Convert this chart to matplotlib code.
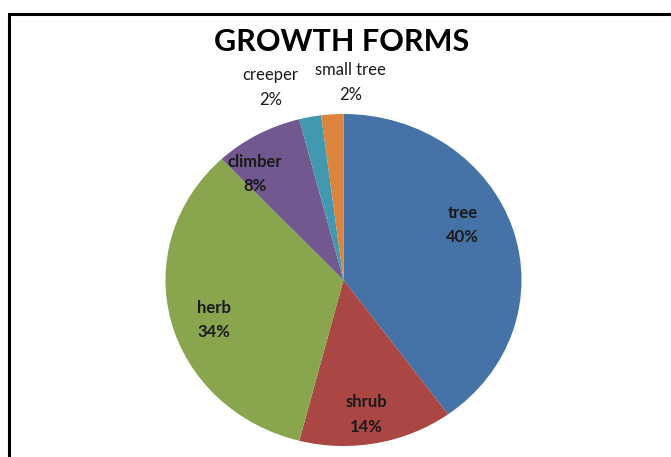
import matplotlib
matplotlib.use("Agg")
import matplotlib.pyplot as plt
from matplotlib.patches import Rectangle

# growth form shares (percent), clockwise from 12 o'clock
forms = ["tree", "shrub", "herb", "climber", "creeper", "small tree"]
shares = [40, 14, 34, 8, 2, 2]
colors = ["#4572A7", "#AA4643", "#89A54E", "#71588F", "#4198AF", "#DB843D"]

# label centres in pie units (radius = 1)
label_xy = [(0.67, 0.33), (0.13, -0.81), (-0.73, -0.24),
            (-0.50, 0.64), (-0.41, 1.16), (0.04, 1.19)]

W, H = 671, 457
fig = plt.figure(figsize=(W / 100, H / 100), dpi=100)
fig.patch.set_facecolor("white")

# chart frame (runs off the right and bottom edges)
fig.patches.append(Rectangle((9 / W, -0.1), 1.2, 1 - 14 / H + 0.1,
                             transform=fig.transFigure, fill=False,
                             edgecolor="black", linewidth=2.2))

cx, cy, rx, ry = 343.5, 280, 178, 166
ax = fig.add_axes([(cx - rx) / W, (H - cy - ry) / H, 2 * rx / W, 2 * ry / H])
ax.pie(shares, colors=colors, startangle=90, counterclock=False,
       wedgeprops=dict(linewidth=0))
ax.set_aspect("auto")
ax.set_xlim(-1, 1)
ax.set_ylim(-1, 1)
ax.axis("off")

for name, val, (x, y) in zip(forms, shares, label_xy):
    outside = y > 1
    ax.text(x, y, f"{name}\n{val}%", ha="center", va="center",
            fontsize=12, fontweight="normal" if outside else "bold",
            family="Lato", color="#1a1a1a", linespacing=1.65, clip_on=False)

fig.text(342 / W, 1 - 42 / H, "GROWTH FORMS", ha="center", va="center",
         fontsize=22, fontweight="bold", family="Lato", color="black")

fig.savefig("out.png", dpi=100)
